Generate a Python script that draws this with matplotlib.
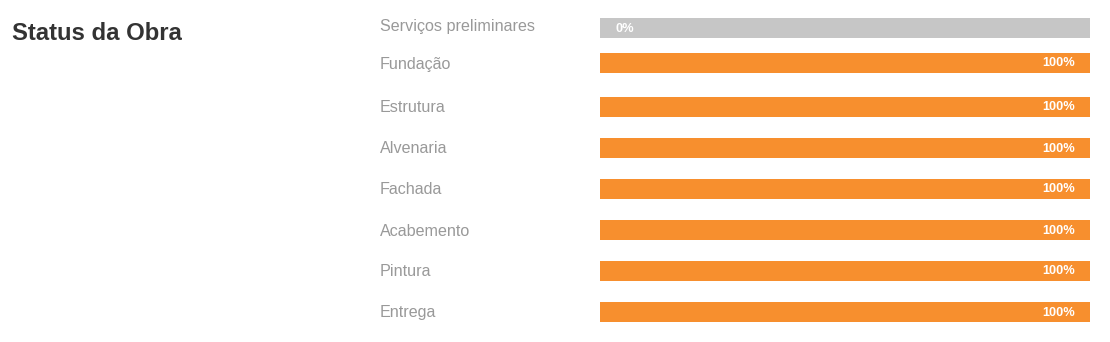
import matplotlib
matplotlib.use("Agg")
import matplotlib.pyplot as plt

plt.rcParams['font.family'] = ['Liberation Sans', 'DejaVu Sans']

stages = ["Serviços preliminares", "Fundação", "Estrutura", "Alvenaria",
          "Fachada", "Acabemento", "Pintura", "Entrega"]
progress = [0, 100, 100, 100, 100, 100, 100, 100]
title = "Status da Obra"

# layout (pixel rows of the reference)
W, H = 1110, 342
bar_rows = [28, 63, 107, 148, 189, 230, 271, 312]
label_rows = [26, 64, 108, 149, 190, 231, 272, 313]
bar_h = 20

fig = plt.figure(figsize=(W / 100, H / 100), dpi=100)
fig.patch.set_facecolor("white")

x0, x1 = 600, 1090
ax = fig.add_axes([x0 / W, 0, (x1 - x0) / W, 1])
ax.set_xlim(0, 100)
ax.set_ylim(H, 0)
ax.axis("off")

ax.barh(bar_rows, [100] * len(stages), height=bar_h, color="#C6C6C6", zorder=1)
ax.barh(bar_rows, progress, height=bar_h, color="#F78F2E", zorder=2)

for y, v in zip(bar_rows, progress):
    if v > 0:
        ax.text(v - 3, y + 0.5, f"{v}%", color="white", fontsize=9.2, fontweight="bold",
                ha="right", va="center", zorder=3)
    else:
        ax.text(3.1, y + 0.5, f"{v}%", color="white", fontsize=9.2, fontweight="bold",
                ha="left", va="center", zorder=3)

for y, s in zip(label_rows, stages):
    fig.text(380 / W, 1 - y / H, s, color="#999999", fontsize=11.6,
             ha="left", va="center")

fig.text(12 / W, 1 - 33 / H, title, color="#333333", fontsize=17.2,
         fontweight="bold", ha="left", va="center")

fig.savefig("out.png", dpi=100, facecolor="white")
